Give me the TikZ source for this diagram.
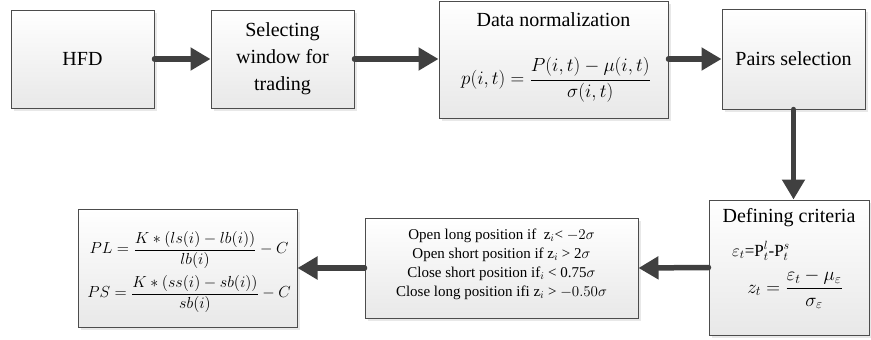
\documentclass[tikz,border=0pt]{standalone}
\usepackage{fix-cm}
\usepackage{fontspec}
\setmainfont{Liberation Serif}
\usetikzlibrary{arrows.meta,shadows}
\begin{document}
\begin{tikzpicture}[x=1pt,y=-1pt,
  box/.style={draw=black!70, line width=1pt, top color=white, bottom color=black!9,
    drop shadow={shadow xshift=3pt, shadow yshift=-3pt, fill=black!18},
    inner sep=0pt, align=center},
  flow/.style={line width=5.5pt, draw=black!75, line cap=round,
    -{Triangle[length=20pt,width=22pt]}},
  big/.style={font=\fontsize{20}{27}\selectfont},
  rules/.style={font=\fontsize{15}{19}\selectfont, align=center, inner sep=0pt},
  lbl/.style={inner sep=0pt}
]
\useasboundingbox (0,0) rectangle (871,340);
% boxes
\node[box, big, minimum width=143pt, minimum height=98pt] (hfd) at (82.5,59) {HFD};
\node[box, big, minimum width=143pt, minimum height=98pt] (sel) at (282.5,59) {Selecting\\window for\\trading};
\node[box, minimum width=229pt, minimum height=117pt] (norm) at (553.5,59.5) {};
\node[box, big, minimum width=143pt, minimum height=100pt] (pairs) at (793.5,59) {Pairs selection};
\node[box, minimum width=160pt, minimum height=135pt] (def) at (789,267.5) {};
\node[box, minimum width=273pt, minimum height=100pt] (rul) at (501.5,268) {};
\node[box, minimum width=219pt, minimum height=118pt] (pl) at (187.5,268) {};
% texts inside
\node[lbl, big] (normt) at (553.5,20) {Data normalization};
\node[lbl, font=\fontsize{19}{23}\selectfont] (normf) at (556,80)
  {$\displaystyle p(i,t)=\frac{P(i,t)-\mu(i,t)}{\sigma(i,t)}$};
\node[lbl, big] (deft) at (789,218) {Defining criteria};
\node[lbl, anchor=west, font=\fontsize{17}{19}\selectfont] (defe) at (732,251)
  {$\varepsilon_t$=P$^{l}_{t}$-P$^{s}_{t}$};
\node[lbl, font=\fontsize{19}{23}\selectfont] (defz) at (795,289)
  {$\displaystyle z_t=\frac{\varepsilon_t-\mu_\varepsilon}{\sigma_\varepsilon}$};
\node[rules] (rult) at (501.5,264)
  {Open long position if\ \ z$_i$< $-2\sigma$\\
   Open short position if z$_i$ > 2$\sigma$\\
   Close short position if$_i$ < 0.75$\sigma$\\
   Close long position ifi z$_i$ > $-0.50\sigma$};
\node[lbl, font=\fontsize{16}{19}\selectfont] (plf) at (189,250)
  {$\displaystyle PL=\frac{K*(ls(i)-lb(i))}{lb(i)}-C$};
\node[lbl, font=\fontsize{16}{19}\selectfont] (psf) at (189,294)
  {$\displaystyle PS=\frac{K*(ss(i)-sb(i))}{sb(i)}-C$};
% connectors
\draw[flow] (hfd.east) -- (sel.west);
\draw[flow] (sel.east) -- (sel.east -| norm.west);
\draw[flow] (norm.east |- pairs.west) -- (pairs.west);
\draw[flow] (pairs.south) -- (pairs.south |- def.north);
\draw[flow] (def.west) -- (rul.east);
\draw[flow] (rul.west) -- (pl.east);
\end{tikzpicture}
\end{document}
